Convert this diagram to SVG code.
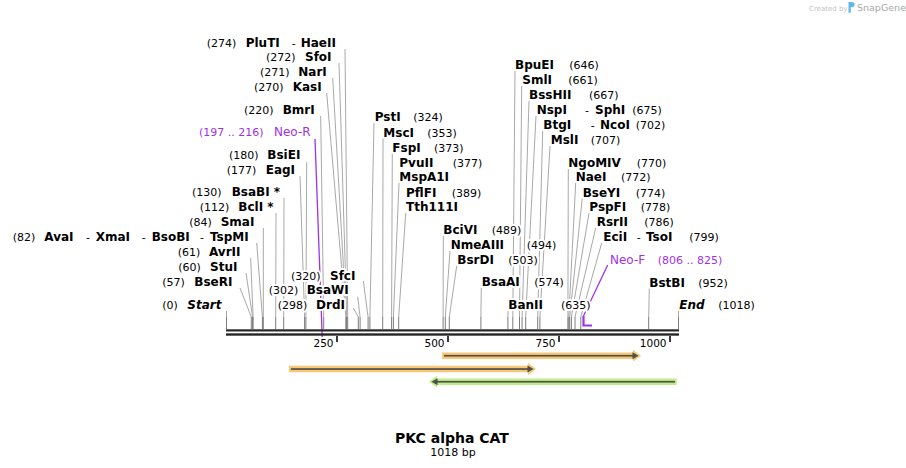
<svg xmlns="http://www.w3.org/2000/svg" width="906" height="468" viewBox="0 0 906 468">
<style>
text{font-family:"DejaVu Sans",Verdana,sans-serif;fill:#000;paint-order:stroke;stroke:#fff;stroke-width:4px;stroke-linejoin:round}
.n{font-size:12px;font-weight:bold}
.p{font-size:11px}
.it{font-style:italic}
.pu{fill:#a032e6}
.pn{font-size:12px}
.ln{stroke:#a8a8a8;stroke-width:1;fill:none}
.st{stroke:#7c7c7c;stroke-width:1;fill:none}
.pl{stroke:#a032e6;stroke-width:1.3;fill:none}
.pr{stroke:#a032e6;stroke-width:2.2;fill:none}
.rl{font-size:10.5px}
.dk{fill:#505050}
.or{fill:#fac772}
.gr{fill:#bfee86}
</style>
<rect width="906" height="468" fill="#fff"/>

<g id="watermark">
<text x="809" y="10.5" style="font-size:7px;fill:#c4c4c4;stroke:none">Created by</text>
<path d="M848.5 2 h3.5 a2.6 2.6 0 0 1 0 5.2 h-1.2 v5.5 h-2.3 z" fill="#62b8ea"/>
<text x="857" y="11" style="font-size:9.5px;fill:#a8a8a8;stroke:none">SnapGene</text>
</g>

<g id="connectors">
<polyline class="ln" points="345,49 347.7,317"/>
<polyline class="ln" points="339,63 346.8,317"/>
<polyline class="ln" points="332.7,78 346.3,317"/>
<polyline class="ln" points="326.7,93 345.9,317"/>
<polyline class="ln" points="320.7,116 323.7,317"/>
<polyline class="ln" points="306.7,162 305.9,317"/>
<polyline class="ln" points="300,176 304.6,317"/>
<polyline class="ln" points="284,198 283.7,317"/>
<polyline class="ln" points="276,213 275.7,317"/>
<polyline class="ln" points="263.3,228 263.3,317"/>
<polyline class="ln" points="256.7,243 262.4,317"/>
<polyline class="ln" points="250.7,258 253.1,317"/>
<polyline class="ln" points="246,273 252.6,317"/>
<polyline class="ln" points="240,288 251.3,317"/>
<polyline class="ln" points="226.5,311 226.5,317"/>
<polyline class="ln" points="363.3,281 368.1,317"/>
<polyline class="ln" points="357.7,296.7 360.1,317"/>
<polyline class="ln" points="353.3,308 358.3,317"/>
<polyline class="ln" points="374,123 369.9,317"/>
<polyline class="ln" points="383,138 382.7,317"/>
<polyline class="ln" points="392.3,153 391.6,317"/>
<polyline class="ln" points="399,183 393.4,317"/>
<polyline class="ln" points="405.7,213 398.7,317"/>
<polyline class="ln" points="443.3,236 443.1,317"/>
<polyline class="ln" points="450,251 445.3,317"/>
<polyline class="ln" points="456.7,266 449.3,317"/>
<polyline class="ln" points="481.3,288 480.9,317"/>
<polyline class="ln" points="508,311 507.9,317"/>
<polyline class="ln" points="515,71 512.8,317"/>
<polyline class="ln" points="521.7,86 519.5,317"/>
<polyline class="ln" points="529,101 522.1,317"/>
<polyline class="ln" points="536,116 525.7,317"/>
<polyline class="ln" points="542.7,131 537.7,317"/>
<polyline class="ln" points="550,146 539.9,317"/>
<polyline class="ln" points="568.3,169 567.9,317"/>
<polyline class="ln" points="575.7,183 568.8,317"/>
<polyline class="ln" points="582.3,198 569.7,317"/>
<polyline class="ln" points="589,213 571.4,317"/>
<polyline class="ln" points="595.7,228 575,317"/>
<polyline class="ln" points="601.7,243 580.8,317"/>
<polyline class="ln" points="649.3,288 648.7,317"/>
<polyline class="ln" points="678.5,311 678.5,317"/>
<path class="st" d="M226.5 317V329M251.3 317V329M252.6 317V329M253.1 317V329M262.4 317V329M263.3 317V329M275.7 317V329M283.7 317V329M304.6 317V329M305.9 317V329M323.7 317V329M345.9 317V329M346.3 317V329M346.8 317V329M347.7 317V329M358.3 317V329M360.1 317V329M368.1 317V329M369.9 317V329M382.7 317V329M391.6 317V329M393.4 317V329M398.7 317V329M443.1 317V329M445.3 317V329M449.3 317V329M480.9 317V329M507.9 317V329M512.8 317V329M519.5 317V329M522.1 317V329M525.7 317V329M537.7 317V329M539.9 317V329M567.9 317V329M568.8 317V329M569.7 317V329M571.4 317V329M575 317V329M580.8 317V329M648.7 317V329M678.5 317V329"/>
<polyline class="pl" points="315,139 322.3,339"/>
<polyline class="pr" points="314,339 322.3,339"/>
<polyline class="pl" points="607.7,265 583.5,316"/>
<polyline class="pr" points="583.5,316 583.5,325.5 592,325.5"/>
</g>

<g id="backbone">
<rect x="226" y="329.3" width="453" height="2.2" fill="#262626"/>
<rect x="226" y="333.3" width="453" height="2.4" fill="#262626"/>
<path d="M337 336V342M448 336V342M559 336V342M670 336V342" stroke="#262626" stroke-width="1.8"/>
<text class="rl" x="333.5" y="346.5" text-anchor="end">250</text>
<text class="rl" x="444.5" y="346.5" text-anchor="end">500</text>
<text class="rl" x="555.5" y="346.5" text-anchor="end">750</text>
<text class="rl" x="666.5" y="346.5" text-anchor="end">1000</text>
</g>

<g id="labels-left">
<g id="site-PluTI"><text y="46.5"><tspan class="p" x="206.7">(274)</tspan><tspan class="n" x="245.7">PluTI</tspan><tspan class="p" x="291.7">-</tspan><tspan class="n" x="300.7">HaeII</tspan></text></g>
<g id="site-SfoI"><text y="61"><tspan class="p" x="266">(272)</tspan><tspan class="n" x="305">SfoI</tspan></text></g>
<g id="site-NarI"><text y="76"><tspan class="p" x="260">(271)</tspan><tspan class="n" x="298.3">NarI</tspan></text></g>
<g id="site-KasI"><text y="91"><tspan class="p" x="254">(270)</tspan><tspan class="n" x="292.7">KasI</tspan></text></g>
<g id="site-BmrI"><text y="114"><tspan class="p" x="244">(220)</tspan><tspan class="n" x="282.7">BmrI</tspan></text></g>
<g id="primer-NeoR"><text y="136" class="pu"><tspan class="p pu" x="199">(197 .. 216)</tspan><tspan class="pn pu" x="274">Neo-R</tspan></text></g>
<g id="site-BsiEI"><text y="159"><tspan class="p" x="229">(180)</tspan><tspan class="n" x="267.3">BsiEI</tspan></text></g>
<g id="site-EagI"><text y="174"><tspan class="p" x="226.7">(177)</tspan><tspan class="n" x="265.7">EagI</tspan></text></g>
<g id="site-BsaBI"><text y="196"><tspan class="p" x="192">(130)</tspan><tspan class="n" x="231.7">BsaBI *</tspan></text></g>
<g id="site-BclI"><text y="211"><tspan class="p" x="199.7">(112)</tspan><tspan class="n" x="238.3">BclI *</tspan></text></g>
<g id="site-SmaI"><text y="226"><tspan class="p" x="189.3">(84)</tspan><tspan class="n" x="220.7">SmaI</tspan></text></g>
<g id="site-AvaI"><text y="241"><tspan class="p" x="12.7">(82)</tspan><tspan class="n" x="44.3">AvaI</tspan><tspan class="p" x="86">-</tspan><tspan class="n" x="95.7">XmaI</tspan><tspan class="p" x="141.7">-</tspan><tspan class="n" x="151.7">BsoBI</tspan><tspan class="p" x="200">-</tspan><tspan class="n" x="210">TspMI</tspan></text></g>
<g id="site-AvrII"><text y="256"><tspan class="p" x="177.7">(61)</tspan><tspan class="n" x="209">AvrII</tspan></text></g>
<g id="site-StuI"><text y="271"><tspan class="p" x="178.3">(60)</tspan><tspan class="n" x="210">StuI</tspan></text></g>
<g id="site-BseRI"><text y="286"><tspan class="p" x="162.3">(57)</tspan><tspan class="n" x="194.3">BseRI</tspan></text></g>
<g id="site-Start"><text y="309"><tspan class="p" x="162.3">(0)</tspan><tspan class="n it" x="187.3">Start</tspan></text></g>
<g id="site-SfcI"><text y="279.5"><tspan class="p" x="291">(320)</tspan><tspan class="n" x="330">SfcI</tspan></text></g>
<g id="site-BsaWI"><text y="294"><tspan class="p" x="268.7">(302)</tspan><tspan class="n" x="306.7">BsaWI</tspan></text></g>
<g id="site-DrdI"><text y="309"><tspan class="p" x="277.7">(298)</tspan><tspan class="n" x="316">DrdI</tspan></text></g>
</g>

<g id="labels-right">
<g id="site-PstI"><text y="121"><tspan class="n" x="374.7">PstI</tspan><tspan class="p" x="413.3">(324)</tspan></text></g>
<g id="site-MscI"><text y="136.5"><tspan class="n" x="383.3">MscI</tspan><tspan class="p" x="427.3">(353)</tspan></text></g>
<g id="site-FspI"><text y="151.5"><tspan class="n" x="392.3">FspI</tspan><tspan class="p" x="434">(373)</tspan></text></g>
<g id="site-PvuII"><text y="166.5"><tspan class="n" x="399.3">PvuII</tspan><tspan class="p" x="452.7">(377)</tspan></text><text y="181" class="n" x="399.3">MspA1I</text></g>
<g id="site-PflFI"><text y="196.5"><tspan class="n" x="406">PflFI</tspan><tspan class="p" x="451.7">(389)</tspan></text><text y="211" class="n" x="406">Tth111I</text></g>
<g id="site-BciVI"><text y="234"><tspan class="n" x="443.3">BciVI</tspan><tspan class="p" x="491.7">(489)</tspan></text></g>
<g id="site-NmeAIII"><text y="249"><tspan class="n" x="450.7">NmeAIII</tspan><tspan class="p" x="526.7">(494)</tspan></text></g>
<g id="site-BsrDI"><text y="264"><tspan class="n" x="457.3">BsrDI</tspan><tspan class="p" x="508.3">(503)</tspan></text></g>
<g id="site-BsaAI"><text y="286"><tspan class="n" x="481.7">BsaAI</tspan><tspan class="p" x="534.3">(574)</tspan></text></g>
<g id="site-BanII"><text y="309"><tspan class="n" x="508.3">BanII</tspan><tspan class="p" x="561">(635)</tspan></text></g>
<g id="site-BpuEI"><text y="69"><tspan class="n" x="515">BpuEI</tspan><tspan class="p" x="569.3">(646)</tspan></text></g>
<g id="site-SmlI"><text y="83.5"><tspan class="n" x="522.3">SmlI</tspan><tspan class="p" x="568.3">(661)</tspan></text></g>
<g id="site-BssHII"><text y="98.5"><tspan class="n" x="529">BssHII</tspan><tspan class="p" x="589">(667)</tspan></text></g>
<g id="site-NspI"><text y="114"><tspan class="n" x="536.7">NspI</tspan><tspan class="p" x="585">-</tspan><tspan class="n" x="595">SphI</tspan><tspan class="p" x="632.3">(675)</tspan></text></g>
<g id="site-BtgI"><text y="129"><tspan class="n" x="543.3">BtgI</tspan><tspan class="p" x="590.7">-</tspan><tspan class="n" x="600">NcoI</tspan><tspan class="p" x="635.7">(702)</tspan></text></g>
<g id="site-MslI"><text y="144"><tspan class="n" x="550.7">MslI</tspan><tspan class="p" x="590.7">(707)</tspan></text></g>
<g id="site-NgoMIV"><text y="167"><tspan class="n" x="568.3">NgoMIV</tspan><tspan class="p" x="636.7">(770)</tspan></text></g>
<g id="site-NaeI"><text y="181"><tspan class="n" x="575.7">NaeI</tspan><tspan class="p" x="621">(772)</tspan></text></g>
<g id="site-BseYI"><text y="196.5"><tspan class="n" x="582.7">BseYI</tspan><tspan class="p" x="635.7">(774)</tspan></text></g>
<g id="site-PspFI"><text y="211"><tspan class="n" x="589.3">PspFI</tspan><tspan class="p" x="640.7">(778)</tspan></text></g>
<g id="site-RsrII"><text y="226"><tspan class="n" x="596.7">RsrII</tspan><tspan class="p" x="644.3">(786)</tspan></text></g>
<g id="site-EciI"><text y="241"><tspan class="n" x="603.3">EciI</tspan><tspan class="p" x="636.7">-</tspan><tspan class="n" x="646">TsoI</tspan><tspan class="p" x="689.3">(799)</tspan></text></g>
<g id="primer-NeoF"><text y="264" class="pu"><tspan class="pn pu" x="610">Neo-F</tspan><tspan class="p pu" x="657.7">(806 .. 825)</tspan></text></g>
<g id="site-BstBI"><text y="286.5"><tspan class="n" x="649.3">BstBI</tspan><tspan class="p" x="698.3">(952)</tspan></text></g>
<g id="site-End"><text y="309"><tspan class="n it" x="679.3">End</tspan><tspan class="p" x="718.3">(1018)</tspan></text></g>
</g>

<g id="features">
<g id="feature-1">
<polygon class="or" points="442,352.4 633,352.4 633,349.8 641,355.7 633,361.6 633,359 442,359"/>
<rect x="444" y="354.9" width="189" height="1.7" class="dk"/>
<polygon points="632.5,352.2 638.5,355.7 632.5,359.2" class="dk"/>
</g>
<g id="feature-2">
<polygon class="or" points="289,365.7 528,365.7 528,363.1 536,369 528,374.9 528,372.3 289,372.3"/>
<rect x="291" y="368.2" width="237" height="1.7" class="dk"/>
<polygon points="527.5,365.5 533.5,369 527.5,372.5" class="dk"/>
</g>
<g id="feature-3">
<polygon class="gr" points="676.7,378.4 437,378.4 437,375.8 429,381.7 437,387.6 437,385 676.7,385"/>
<rect x="437" y="380.9" width="238" height="1.7" class="dk"/>
<polygon points="437.5,378.2 431.5,381.7 437.5,385.2" class="dk"/>
</g>
</g>

<g id="title">
<text x="452" y="443.3" text-anchor="middle" style="font-size:14px;font-weight:bold">PKC alpha CAT</text>
<text x="453" y="455.7" text-anchor="middle" style="font-size:11px">1018 bp</text>
</g>
</svg>
